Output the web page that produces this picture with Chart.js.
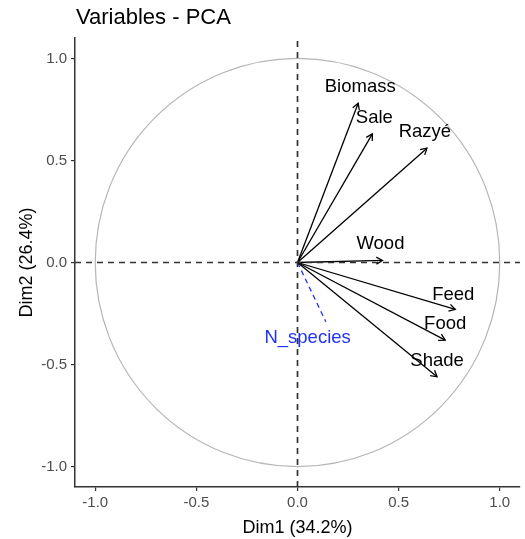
<!DOCTYPE html>
<html>
<head>
<meta charset="utf-8">
<script src="https://cdn.jsdelivr.net/npm/chart.js@4/dist/chart.umd.min.js"></script>
<style>
  body { margin: 0; background: #fff; }
  #wrap { width: 525px; height: 539px; }
</style>
</head>
<body>
<div id="wrap"><canvas id="pca" width="525" height="539"></canvas></div>
<script>
// variables activas (coordenadas en Dim1 / Dim2)
const variables = ['Biomass', 'Sale', 'Razyé', 'Wood', 'Feed', 'Food', 'Shade']
const dim1 = [0.30, 0.37, 0.64, 0.42, 0.78, 0.73, 0.69]
const dim2 = [0.78, 0.63, 0.56, 0.01, -0.23, -0.38, -0.56]

// posición de las etiquetas (repel)
const labelDim1 = [0.31, 0.38, 0.63, 0.41, 0.77, 0.73, 0.69]
const labelDim2 = [0.86, 0.71, 0.64, 0.09, -0.16, -0.30, -0.48]

// variable suplementaria
const suppVariables = ['N_species']
const suppDim1 = [0.14]
const suppDim2 = [-0.29]
const suppLabelDim1 = [0.05]
const suppLabelDim2 = [-0.37]

const tickValues = [-1.0, -0.5, 0.0, 0.5, 1.0]
const axisMin = -1.1
const axisMax = 1.1

const FONT = '"Liberation Sans", Arial, sans-serif'
const SUPP_COLOR = '#2233ee'

/**
 * círculo de correlación, flechas y etiquetas
 */
const pcaPlugin = {
  id: 'pcaExtras',
  beforeDatasetsDraw(chart) {
    const { ctx, scales: { x, y } } = chart
    const cx = x.getPixelForValue(0)
    const cy = y.getPixelForValue(0)
    const rx = x.getPixelForValue(1) - cx
    const ry = cy - y.getPixelForValue(1)
    ctx.save()
    ctx.strokeStyle = '#b5b5b5'
    ctx.lineWidth = 1.2
    ctx.beginPath()
    ctx.ellipse(cx, cy, rx, ry, 0, 0, Math.PI * 2)
    ctx.stroke()
    ctx.restore()
  },
  afterDatasetsDraw(chart) {
    const { ctx, scales: { x, y }, chartArea } = chart
    ctx.save()

    // puntas de flecha abiertas
    ctx.strokeStyle = '#000'
    ctx.lineWidth = 1.3
    const x0 = x.getPixelForValue(0)
    const y0 = y.getPixelForValue(0)
    variables.forEach((v, i) => {
      const tx = x.getPixelForValue(dim1[i])
      const ty = y.getPixelForValue(dim2[i])
      const ang = Math.atan2(ty - y0, tx - x0)
      const len = 7
      ctx.beginPath()
      ctx.moveTo(tx - len * Math.cos(ang - Math.PI / 6), ty - len * Math.sin(ang - Math.PI / 6))
      ctx.lineTo(tx, ty)
      ctx.lineTo(tx - len * Math.cos(ang + Math.PI / 6), ty - len * Math.sin(ang + Math.PI / 6))
      ctx.stroke()
    })

    // etiquetas
    ctx.font = '18.5px ' + FONT
    ctx.textAlign = 'center'
    ctx.textBaseline = 'middle'
    ctx.fillStyle = '#000'
    variables.forEach((v, i) => {
      ctx.fillText(v, x.getPixelForValue(labelDim1[i]), y.getPixelForValue(labelDim2[i]))
    })
    ctx.fillStyle = SUPP_COLOR
    suppVariables.forEach((v, i) => {
      ctx.fillText(v, x.getPixelForValue(suppLabelDim1[i]), y.getPixelForValue(suppLabelDim2[i]))
    })

    // título
    ctx.font = '22px ' + FONT
    ctx.textAlign = 'left'
    ctx.textBaseline = 'alphabetic'
    ctx.fillStyle = '#000'
    ctx.fillText('Variables - PCA', chartArea.left + 1, 24)
    ctx.restore()
  }
}

function lineDataset(points, color, dash, width) {
  return {
    data: points,
    showLine: true,
    borderColor: color,
    borderWidth: width,
    borderDash: dash,
    pointRadius: 0,
    pointHoverRadius: 0,
    fill: false
  }
}

document.addEventListener('DOMContentLoaded', () => {
  const datasets = []

  // líneas de referencia punteadas
  datasets.push(lineDataset([{ x: axisMin, y: 0 }, { x: axisMax, y: 0 }], '#333', [6, 5], 1.7))
  datasets.push(lineDataset([{ x: 0, y: axisMin }, { x: 0, y: axisMax }], '#333', [6, 5], 1.7))

  variables.forEach((v, i) => {
    datasets.push(lineDataset([{ x: 0, y: 0 }, { x: dim1[i], y: dim2[i] }], '#000', [], 1.3))
  })
  suppVariables.forEach((v, i) => {
    datasets.push(lineDataset([{ x: 0, y: 0 }, { x: suppDim1[i], y: suppDim2[i] }], SUPP_COLOR, [5, 4], 1.3))
  })

  const tickFont = { family: FONT, size: 15 }
  const titleFont = { family: FONT, size: 18 }

  new Chart(document.getElementById('pca'), {
    type: 'scatter',
    data: { datasets },
    options: {
      responsive: false,
      animation: false,
      events: [],
      layout: { padding: { top: 38, right: 5, left: 0, bottom: 0 } },
      plugins: {
        legend: { display: false },
        tooltip: { enabled: false },
        title: { display: false }
      },
      scales: {
        x: {
          type: 'linear',
          min: axisMin,
          max: axisMax,
          afterBuildTicks: scale => { scale.ticks = tickValues.map(v => ({ value: v })) },
          afterFit: scale => { scale.height = 52 },
          ticks: {
            font: tickFont,
            color: '#4d4d4d',
            padding: 3,
            maxRotation: 0,
            callback: v => v.toFixed(1)
          },
          grid: { drawOnChartArea: false, tickLength: 4, color: '#333', lineWidth: 1.2 },
          border: { display: true, color: '#333', width: 1.5 },
          title: { display: true, text: 'Dim1 (34.2%)', font: titleFont, color: '#000', padding: { top: 6.5, bottom: 0 } }
        },
        y: {
          type: 'linear',
          min: axisMin,
          max: axisMax,
          afterBuildTicks: scale => { scale.ticks = tickValues.map(v => ({ value: v })) },
          afterFit: scale => { scale.width = 75 },
          ticks: {
            font: tickFont,
            color: '#4d4d4d',
            padding: 4,
            callback: v => v.toFixed(1)
          },
          grid: { drawOnChartArea: false, tickLength: 4, color: '#333', lineWidth: 1.2 },
          border: { display: true, color: '#333', width: 1.5 },
          title: { display: true, text: 'Dim2 (26.4%)', font: titleFont, color: '#000', padding: { top: 16.7, bottom: 0 } }
        }
      }
    },
    plugins: [pcaPlugin]
  })
})
</script>
</body>
</html>
